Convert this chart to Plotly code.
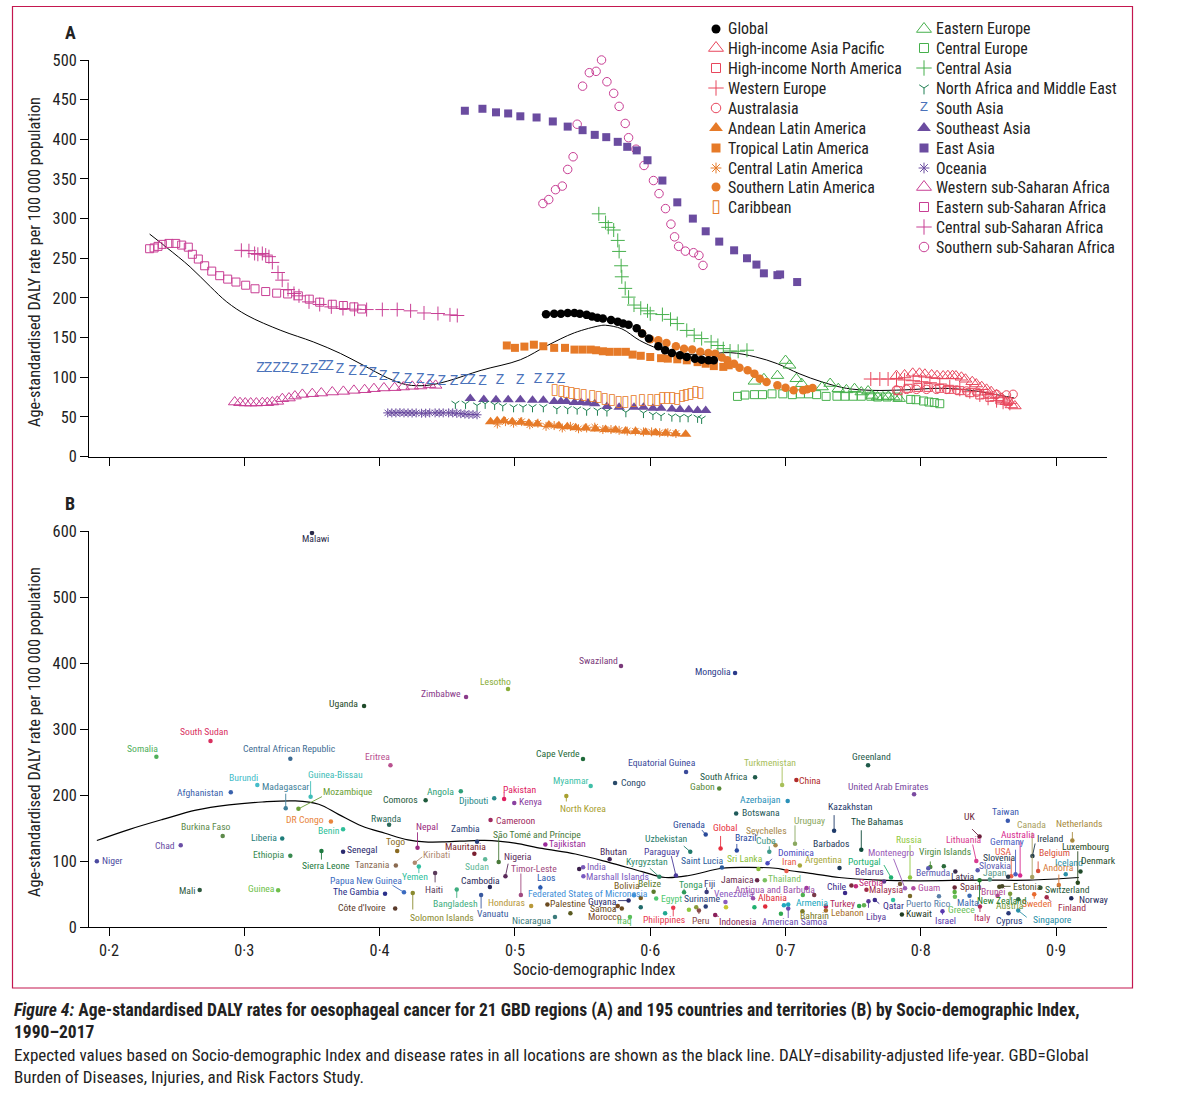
import plotly.graph_objects as go

W, H = 1179, 1095
FONT = "Roboto Condensed"

# ---- panel A : regions
expected_a_sdi = [.230, .243, .260, .275, .287, .302, .327, .351, .371, .388, .406, .420, .435, .450, .475, .504, .524, .544, .563, .567, .579, .592, .606, .622, .641, .659, .678, .694, .710, .727, .745, .764, .788, .815, .837, .869]
expected_a_rate = [280.5, 263, 239, 214, 195, 178, 159, 144.5, 130, 115, 99, 90.5, 89.7, 95, 108.7, 122, 140, 156, 165, 165.5, 161, 146.6, 136, 129.7, 129, 131, 125.5, 117, 104.5, 94, 86, 83.4, 84, 86, 83.4, 73.7]

global_sdi = [.523, .529, .534, .539, .544, .548, .553, .557, .561, .565, .571, .576, .580, .584, .590, .594, .599, .606, .611, .616, .622, .627, .633, .638, .643, .647]
global_rate = [179.4, 180, 180, 181, 181, 180, 178.6, 176.5, 175, 174, 172, 170, 167.6, 166, 161.8, 155, 148.7, 139, 134, 130.6, 127.6, 125.5, 123.4, 122, 121.3, 121.3]
hi_asia_sdi = [.782, .788, .794, .799, .803, .808, .812, .8165, .820, .8234, .826, .830, .833, .838, .841, .845, .8486, .852, .856, .860, .8633, .867, .8695]
hi_asia_rate = [101.9, 102.8, 104.9, 104.9, 103.7, 102.8, 101.9, 101.5, 101.9, 101.9, 101.5, 99.9, 97.4, 94.3, 91.4, 88, 84.7, 81.7, 77.6, 73.4, 69.1, 65, 63.7]
hi_na_sdi = [.7832, .7906, .798, .8054, .814, .8214, .8288, .8362, .8436, .851, .8584, .8645]
hi_na_rate = [83, 86, 87.2, 87.2, 86, 84.7, 83, 80.5, 77.6, 74.6, 71.3, 69.2]
w_europe_sdi = [.763, .7697, .7758, .782, .788, .7943, .8005, .8067, .814, .8214, .8288, .8362, .8436, .8497, .856, .8608, .8658]
w_europe_rate = [97.7, 97.7, 97.7, 97.7, 96.5, 95.6, 94.3, 93, 91.4, 88, 84.7, 81.7, 77.6, 73.4, 70.4, 68.4, 67]
australasia_sdi = [.782, .7894, .7968, .8042, .8116, .819, .8264, .8338, .8412, .8486, .856, .8633, .8682]
australasia_rate = [83.9, 84.7, 84.7, 84.7, 84.7, 84.7, 83.9, 82.6, 81, 79.7, 78.4, 77.6, 78.4]
andean_sdi = [.482, .4869, .4919, .498, .5042, .5103, .5165, .5251, .5325, .5387, .5449, .5522, .5596, .567, .5744, .5818, .5892, .5966, .604, .6114, .6188, .6262]
andean_rate = [43.9, 45.2, 45.2, 43.9, 43.1, 41.8, 41, 39.7, 38.9, 37.6, 36.3, 36, 34.7, 34.2, 33.4, 32.2, 31.4, 30.5, 30.1, 29.3, 28.8, 28]
tropical_sdi = [.494, .500, .507, .514, .521, .529, .537, .544, .550, .556, .560, .565, .570, .576, .582, .587, .593, .600, .608, .613, .620, .627, .635, .641, .647, .654, .658]
tropical_rate = [140, 137, 138.6, 141, 139, 137, 137, 134.8, 134.8, 134.8, 134, 132.7, 132, 132, 132, 128.5, 127, 125.5, 124, 123.4, 122.6, 121.3, 119, 117, 114, 113, 115]
central_la_sdi = [.487, .493, .499, .505, .511, .517, .523, .529, .535, .541, .547, .553, .559, .565, .571, .577, .583, .589, .595, .601, .607, .613, .619]
central_la_rate = [41, 44, 42, 44, 40, 42, 38, 39, 36, 38, 35, 36, 37, 34, 34, 33, 32, 32, 31, 31, 30, 30, 29]
southern_la_sdi = [.594, .600, .606, .612, .619, .625, .631, .637, .643, .648, .653, .657, .662, .666, .672, .677, .681, .686, .694, .700, .706, .713, .716, .720]
southern_la_rate = [155, 148, 146.6, 143, 139, 136, 134.8, 132, 130.6, 129.7, 124.7, 121.3, 117, 112, 108.7, 104.5, 98, 94, 89.7, 86.8, 83.4, 83.4, 84.7, 86.4]
caribbean_sdi = [.5296, .5345, .538, .5419, .546, .551, .5572, .562, .5665, .5719, .5769, .5818, .588, .5941, .6003, .6052, .6089, .6126, .6163, .62, .6237, .6266, .6299, .6336, .6372]
caribbean_rate = [83, 81.7, 80.5, 79.7, 78.8, 76.7, 75.4, 74.2, 72.5, 70.4, 68.3, 67.9, 69.1, 70.4, 70.4, 71.3, 73.4, 73.4, 73.4, 72.1, 75.4, 77.6, 78.8, 80.5, 79.7]
e_europe_sdi = [.677, .684, .694, .700, .703, .708, .712, .727, .733, .739, .745, .751, .756, .761, .764, .768, .772, .776, .780, .784]
e_europe_rate = [94.8, 98, 102, 121, 115, 98, 91.8, 87.6, 92, 85.5, 84, 85.5, 81.3, 82.6, 77, 75, 75, 75.8, 75, 73]
c_europe_sdi = [.6645, .670, .677, .683, .690, .698, .705, .711, .717, .723, .730, .738, .744, .750, .756, .763, .768, .775, .783, .7925, .7965, .802, .806, .810, .814]
c_europe_rate = [75.8, 77.5, 78, 78, 79, 79, 78, 79, 79, 78, 75.8, 76, 76, 76, 76, 76, 75, 75, 75, 72, 71.6, 70, 68.7, 68, 66.6]
c_asia_sdi = [.562, .567, .569, .573, .576, .577, .5785, .579, .5815, .584, .588, .593, .598, .600, .609, .615, .620, .627, .6325, .638, .645, .650, .654, .659, .665, .6715]
c_asia_rate = [306, 295, 289, 285.6, 272.5, 258.6, 240.5, 226.6, 212, 201, 191, 187, 183.7, 180, 179, 173, 167.6, 159, 153, 148.7, 144.5, 140, 136, 133, 132.7, 134]
name_sdi = [.456, .4635, .472, .478, .485, .491, .499, .506, .513, .521, .531, .539, .546, .553, .561, .568, .582, .595, .602, .608, .616, .622, .628, .635, .638]
name_rate = [66.6, 66.6, 64.4, 66.6, 65.3, 63.6, 62.3, 62.3, 62.3, 62.3, 60, 60, 59.4, 58, 58, 57, 56, 55, 52.7, 51.4, 50.5, 49.7, 49.7, 49, 47.6]
s_asia_sdi = [.312, .3175, .324, .3305, .337, .3446, .3515, .3576, .363, .3707, .380, .388, .395, .4027, .412, .421, .430, .4377, .446, .455, .4623, .468, .476, .489, .504, .517, .526, .534]
s_asia_rate = [111.6, 111.6, 111.6, 110.8, 109.5, 108.7, 109.5, 113, 113, 109.5, 107.8, 106.6, 104.5, 101.5, 98, 97.3, 96.9, 96, 95, 95, 96, 96, 94, 96, 96, 97, 97, 97]
se_asia_sdi = [.467, .477, .486, .495, .504, .513, .521, .529, .534, .538, .544, .549, .554, .559, .568, .577, .588, .595, .602, .608, .616, .622, .6285, .635, .641]
se_asia_rate = [73, 72, 71.6, 71.6, 71.6, 71, 70.8, 69.5, 69.5, 69.5, 68, 68, 67.4, 66.6, 63, 62, 62, 62, 61, 60.7, 60, 59.4, 59, 58, 58]
e_asia_sdi = [.463, .476, .486, .495, .504, .516, .528, .539, .550, .559, .5675, .576, .583, .590, .598, .609, .620, .6315, .641, .651, .662, .6715, .6785, .684, .694, .696, .7086]
e_asia_rate = [436, 438.5, 434, 432.6, 429, 427.5, 422.5, 416, 411.5, 405.6, 402.7, 396.8, 390.5, 386, 373.6, 348, 320.5, 300, 284, 271, 260, 250, 242, 231, 228.7, 229.6, 220]
oceania_sdi = [.406, .409, .412, .415, .418, .421, .424, .427, .431, .434, .437, .441, .444, .447, .451, .454, .457, .460, .463, .466, .469, .472]
oceania_rate = [55, 55, 55, 55.4, 55, 55, 54.8, 55, 54.6, 54.6, 55, 55, 55, 55, 55, 55, 54.5, 54, 53.5, 53, 53, 52.6]
w_ssa_sdi = [.2929, .2968, .3007, .3047, .3089, .3133, .317, .3207, .3244, .3281, .333, .3374, .3429, .3502, .3569, .365, .3732, .381, .3889, .3958, .4032, .4111, .4175, .4241, .4303, .4369, .4414]
w_ssa_rate = [68.7, 67.8, 67.4, 67.4, 67.4, 67.8, 67.8, 68.7, 69.5, 72.9, 73.7, 76.2, 78.3, 79.2, 80, 81.3, 82.1, 83.4, 84.2, 85.5, 86.4, 86.8, 87.6, 88.5, 88.9, 90.6, 89.7]
e_ssa_sdi = [.230, .2333, .2362, .2394, .2443, .2493, .2537, .2586, .2616, .266, .2707, .2759, .2818, .2877, .2938, .301, .3079, .3158, .3239, .332, .3399, .348, .3557, .365, .3732, .381, .3867]
e_ssa_rate = [262, 263, 265, 267.5, 268.7, 268.7, 266.6, 264, 255, 249, 240.5, 233.8, 228, 223.7, 220, 216, 211.5, 208, 206, 205, 202.6, 198.4, 194.6, 192, 190.4, 188.7, 186]
c_ssa_sdi = [.2978, .3034, .3076, .31, .3133, .3158, .3182, .3207, .3249, .328, .3323, .3367, .3404, .3478, .3557, .3643, .3729, .3815, .3904, .402, .413, .4229, .4328, .4431, .452, .4574]
c_ssa_rate = [260, 259.5, 256, 255, 256, 254, 252, 244.7, 232, 222.4, 210.6, 205.6, 202.6, 195, 191.7, 188.7, 186.6, 185.8, 185.3, 185.3, 185.3, 183.7, 181, 180.3, 178.6, 177.8]
s_ssa_sdi = [.5207, .525, .530, .535, .539, .543, .546, .550, .555, .560, .564, .568, .573, .577, .5815, .584, .5895, .5954, .6024, .6065, .6113, .6153, .618, .621, .626, .632, .636, .639]
s_ssa_rate = [319, 324, 336.5, 341, 362, 378, 419, 467, 484, 485.7, 500, 472.6, 458, 441.5, 420, 402, 387.5, 367, 348, 331.5, 312.6, 293, 277, 265, 259, 257, 253.6, 241]

RED, ORANGE, GREEN, DKGREEN, BLUE, PURPLE, PINK = "#e8465c", "#e67a28", "#46b04c", "#1f7f52", "#4a72ba", "#6b4ca0", "#c83e94"

# name, x, y, symbol (or text glyph), colour
regions = [
    ("Global", global_sdi, global_rate, "circle", "black"),
    ("High-income Asia Pacific", hi_asia_sdi, hi_asia_rate, "triangle-up-open", RED),
    ("High-income North America", hi_na_sdi, hi_na_rate, "square-open", RED),
    ("Western Europe", w_europe_sdi, w_europe_rate, "cross-thin-open", RED),
    ("Australasia", australasia_sdi, australasia_rate, "circle-open", RED),
    ("Andean Latin America", andean_sdi, andean_rate, "triangle-up", ORANGE),
    ("Tropical Latin America", tropical_sdi, tropical_rate, "square", ORANGE),
    ("Central Latin America", central_la_sdi, central_la_rate, "asterisk-open", ORANGE),
    ("Southern Latin America", southern_la_sdi, southern_la_rate, "circle", ORANGE),
    ("Caribbean", caribbean_sdi, caribbean_rate, "text:\u25af", ORANGE),
    ("Eastern Europe", e_europe_sdi, e_europe_rate, "triangle-up-open", GREEN),
    ("Central Europe", c_europe_sdi, c_europe_rate, "square-open", GREEN),
    ("Central Asia", c_asia_sdi, c_asia_rate, "cross-thin-open", GREEN),
    ("North Africa and Middle East", name_sdi, name_rate, "y-down-open", DKGREEN),
    ("South Asia", s_asia_sdi, s_asia_rate, "text:Z", BLUE),
    ("Southeast Asia", se_asia_sdi, se_asia_rate, "triangle-up", PURPLE),
    ("East Asia", e_asia_sdi, e_asia_rate, "square", PURPLE),
    ("Oceania", oceania_sdi, oceania_rate, "asterisk-open", PURPLE),
    ("Western sub-Saharan Africa", w_ssa_sdi, w_ssa_rate, "triangle-up-open", PINK),
    ("Eastern sub-Saharan Africa", e_ssa_sdi, e_ssa_rate, "square-open", PINK),
    ("Central sub-Saharan Africa", c_ssa_sdi, c_ssa_rate, "cross-thin-open", PINK),
    ("Southern sub-Saharan Africa", s_ssa_sdi, s_ssa_rate, "circle-open", PINK),
]

# marker size per symbol: chart, legend
symbol_sizes = {
    "circle": (8.5, 9), "square": (8, 9), "triangle-up": (10, 12), "triangle-up-open": (11, 13), "square-open": (8, 9),
    "circle-open": (8.5, 9.5), "cross-thin-open": (10, 11), "asterisk-open": (7.5, 9), "y-down-open": (6.5, 8),
}

# ---- panel B : countries
expected_b_sdi = [.191, .2152, .2397, .2642, .2887, .3132, .3377, .355, .3696, .3868, .404, .421, .4333, .448, .470, .483, .5, .52, .5447, .5694, .594, .611, .6286, .653, .67, .6926, .70, .72, .7396, .769, .7986, .843, .88, .9167]
expected_b_rate = [131, 148, 163, 177, 185, 189.4, 191, 186, 170.7, 153, 142, 132, 129, 129, 131, 131, 127, 119, 110.6, 98, 84, 75, 78, 89, 90.4, 89, 86.4, 81, 75, 71, 70, 71, 71, 75]

countries = [
    "Niger", "Somalia", "South Sudan", "Central African Republic", "Eritrea", "Burundi", "Madagascar", "Guinea-Bissau",
    "Mozambique", "Afghanistan", "DR Congo", "Benin", "Angola", "Comoros", "Rwanda", "Burkina Faso",
    "Liberia", "Chad", "Ethiopia", "Sierra Leone", "Senegal", "Nepal", "Togo", "Tanzania",
    "Kiribati", "Yemen", "Haiti", "Papua New Guinea", "The Gambia", "Solomon Islands", "Côte d'Ivoire", "Mali",
    "Guinea", "Bangladesh", "Cambodia", "Mauritania", "Zambia", "Djibouti", "Sudan", "Vanuatu",
    "Pakistan", "Kenya", "Cameroon", "North Korea", "Myanmar", "Congo", "Gabon", "Grenada",
    "Global", "Brazil", "Seychelles", "Uzbekistan", "São Tomé and Príncipe", "Tajikistan", "Nigeria", "Timor-Leste",
    "Laos", "Bhutan", "Kyrgyzstan", "Paraguay", "Saint Lucia", "Sri Lanka", "Dominica", "Cuba",
    "India", "Marshall Islands", "Federated States of Micronesia", "Honduras", "Palestine", "Nicaragua", "Guyana", "Samoa",
    "Morocco", "Iraq", "Bolivia", "Belize", "Egypt", "Philippines", "Tonga", "Fiji",
    "Suriname", "Peru", "Indonesia", "Jamaica", "Thailand", "Venezuela", "Antigua and Barbuda", "Albania",
    "American Samoa", "Armenia", "Bahrain", "Iran", "Argentina", "Uruguay", "China", "Turkmenistan",
    "Azerbaijan", "Botswana", "South Africa", "Equatorial Guinea", "Cape Verde", "Swaziland", "Lesotho", "Zimbabwe",
    "Uganda", "Malawi", "Mongolia", "Greenland", "United Arab Emirates", "Kazakhstan", "The Bahamas", "Barbados",
    "Portugal", "Russia", "Montenegro", "Belarus", "Serbia", "Malaysia", "Chile", "Guam",
    "Virgin Islands", "Bermuda", "Latvia", "Lithuania", "UK", "Taiwan", "Canada", "Netherlands",
    "Australia", "Germany", "USA", "Slovenia", "Slovakia", "Japan", "Ireland", "Luxembourg",
    "Belgium", "Iceland", "Denmark", "Andorra", "Estonia", "Switzerland", "Norway", "Finland",
    "Sweden", "Austria", "New Zealand", "Brunei", "Spain", "Malta", "Italy", "Greece",
    "Israel", "Cyprus", "Singapore", "Puerto Rico", "Kuwait", "Qatar", "Libya", "Lebanon",
    "Turkey",
]
country_sdi = [
    .191, .235, .275, .334, .408, .3096, .3306, .349,
    .340, .290, .364, .373, .460, .434, .407, .284,
    .328, .253, .334, .357, .373, .428, .413, .412,
    .426, .429, .441, .418, .404, .4245, .4115, .267,
    .325, .457, .4815, .470, .472, .4847, .478, .475,
    .492, .4995, .482, .538, .556, .574, .651, .641,
    .652, .664, .6926, .6296, .488, .5225, .493, .5044,
    .5188, .570, .6067, .619, .653, .680, .6867, .688,
    .5504, .5506, .588, .512, .524, .5296, .584, .579,
    .576, .585, .593, .6025, .6044, .617, .625, .6417,
    .641, .636, .648, .679, .6847, .6556, .676, .685,
    .702, .702, .7125, .7007, .7106, .707, .708, .6975,
    .7016, .6635, .6775, .6265, .5503, .5784, .4949, .4639,
    .3885, .35, .6627, .761, .795, .7359, .756, .7399,
    .778, .792, .7883, .7728, .752, .7598, .744, .7945,
    .807, .8055, .8255, .841, .8434, .8643, .8823, .912,
    .8734, .870, .8668, .8645, .842, .851, .8825, .916,
    .8867, .9071, .918, .902, .8601, .8884, .9112, .893,
    .8838, .866, .8434, .8567, .825, .836, .8437, .8252,
    .816, .8648, .872, .8134, .786, .766, .7613, .7298,
    .7298,
]
country_rate = [
    99.5, 258, 282, 255, 245, 215, 180, 197.5,
    179, 204, 160, 148, 205.5, 192, 155, 138,
    134, 124, 108, 115, 114, 120, 115, 93,
    97.5, 91.5, 82, 52.5, 50.5, 51.5, 28, 56,
    55.5, 57, 60.6, 111, 129, 195, 102.5, 48.5,
    194, 188, 162, 198.5, 213.6, 218, 210, 140,
    119, 116, 124, 114, 98.5, 125, 77, 48.5,
    60, 102.5, 76, 78, 90, 88, 96.5, 114,
    90.5, 77, 48, 32, 34, 15, 40, 28,
    32, 15, 44, 53.5, 43, 29, 52.5, 53,
    31, 25, 18, 71, 71, 38, 43.4, 31,
    28, 34, 24, 85, 93, 126, 222.7, 215,
    191, 172, 227, 235, 254.5, 395.5, 360.6, 348.5,
    335, 597, 385, 245, 201, 146, 117, 89.4,
    75, 75, 58.6, 69, 61.6, 56.6, 51.5, 58.6,
    91, 89, 84, 100, 137, 161, 75.8, 131,
    78, 80, 77, 76, 86, 72, 107.6, 67,
    85, 80, 84, 63.6, 61.6, 59.6, 43.4, 45,
    49.5, 50.5, 71, 47.5, 60, 47.5, 31, 46,
    24, 21, 25, 46.5, 19, 41, 39, 25,
    31,
]
# dots that carry no readable label
other_sdi = [.5475, .541, .593, .611, .6286, .634, .656, .677, .6966, .6988, .7155, .7128, .7212, .7487, .7544, .758, .7795, .7846, .792, .817, .825, .872, .858]
other_rate = [88, 20.7, 30, 21, 26, 30, 30, 30, 20, 33, 59, 48.5, 48.5, 63, 32, 33, 41, 65, 47, 92, 53, 42, 61]
other_colors = ["#3a1f4a", "#5a5a20", "#1f6a6a", "#20a890", "#90c840", "#8a9a3a", "#c8c830", "#20b070", "#30a850", "#20a8c0", "#a03aa0", "#50b050", "#7a3a4a", "#7a2a3a", "#30a850", "#60b050", "#30c0a0", "#7a5a3a", "#7a6a2a", "#2a6a3a", "#5ab040", "#3a6a4a", "#4a4a20"]

# colour, label centre relative to the dot (px)
label_style = {
    "Niger": ("#4b4aa0", 16, -1), "Somalia": ("#4fae5a", -14, -8), "South Sudan": ("#d9305f", -7, -9),
    "Central African Republic": ("#3f6d94", -1, -10), "Eritrea": ("#b9518f", -13, -9), "Burundi": ("#45bcc9", -14, -8),
    "Madagascar": ("#3f7f9a", 0, -22), "Guinea-Bissau": ("#3fbdb8", 25, -22), "Mozambique": ("#6a9e35", 50, -17),
    "Afghanistan": ("#3a62ac", -31, 0), "DR Congo": ("#e8843c", -26, -2), "Benin": ("#2fbf9a", -14, 1),
    "Angola": ("#2f9f78", -20, 0), "Comoros": ("#1f5a3c", -25, -1), "Rwanda": ("#2c6a5a", -3, -6),
    "Burkina Faso": ("#5d8a4a", -17, -9), "Liberia": ("#1f7d7a", -18, -1), "Chad": ("#6a4ea5", -16, 0),
    "Ethiopia": ("#3a8a50", -22, -1), "Sierra Leone": ("#1f7a40", 5, 14), "Senegal": ("#2b2a6e", 19, -2),
    "Nepal": ("#9a2a80", 9, -21), "Togo": ("#8a6a20", -2, -10), "Tanzania": ("#8a6a50", -23, -1),
    "Kiribati": ("#b08a70", 22, -8), "Yemen": ("#2fbfa0", -4, 10), "Haiti": ("#5a3a5a", -1, 17),
    "Papua New Guinea": ("#3a6ac0", -38, -12), "The Gambia": ("#2a2f8a", -29, -2), "Solomon Islands": ("#8a8a2f", 29, 24),
    "Côte d'Ivoire": ("#5a3a2a", -33, -1), "Mali": ("#2f5a3f", -13, 0), "Guinea": ("#6fbf4a", -17, -2),
    "Bangladesh": ("#3fae80", -1, 14), "Cambodia": ("#2a2a5a", -9, -7), "Mauritania": ("#7a1f30", -9, -7),
    "Zambia": ("#2a3f7a", -12, -13), "Djibouti": ("#2a8a8a", -21, 2), "Sudan": ("#5fb898", -8, 7),
    "Vanuatu": ("#3a5aa0", 12, 19), "Pakistan": ("#e02060", 15, -9), "Kenya": ("#8a40a0", 16, -1),
    "Cameroon": ("#a02a60", 25, 0), "North Korea": ("#a8a030", 17, 13), "Myanmar": ("#40bfa8", -20, -6),
    "Congo": ("#2a4a6a", 18, -1), "Gabon": ("#5a8a3a", -17, -2), "Grenada": ("#2a4a9a", -17, -10),
    "Global": ("#e83040", 4, -21), "Brazil": ("#2a4aa0", 9, -13), "Seychelles": ("#a8884a", -9, -15),
    "Uzbekistan": ("#1f7a6a", -24, -13), "São Tomé and Príncipe": ("#4a7a3a", 38, -27), "Tajikistan": ("#9a2a9a", 22, -1),
    "Nigeria": ("#5a2a5a", 13, -20), "Timor-Leste": ("#a04a80", 13, -26), "Laos": ("#2a5ab0", 6, -10),
    "Bhutan": ("#4a2a5a", 4, -8), "Kyrgyzstan": ("#2f8a6a", -12, -15), "Paraguay": ("#4a3a9a", -14, -24),
    "Saint Lucia": ("#2a5a9a", -20, -7), "Sri Lanka": ("#8abf3a", -13, -10), "Dominica": ("#4a4ac0", 28, -11),
    "Cuba": ("#3f9a8a", -3, -11), "India": ("#7a5ab8", 13, -1), "Marshall Islands": ("#7a5ac0", 34, 0),
    "Federated States of Micronesia": ("#3f90d8", -46, -2), "Honduras": ("#b8983a", -25, -3), "Palestine": ("#6a4a20", 21, -1),
    "Nicaragua": ("#3a7a7a", -23, 3), "Guyana": ("#2a2a6a", -26, 1), "Samoa": ("#6a4a20", -18, 0),
    "Morocco": ("#7a4a1f", -13, 11), "Iraq": ("#5abf5a", -5, 3), "Bolivia": ("#7a5a20", -14, -12),
    "Belize": ("#5a7a2a", -4, -8), "Egypt": ("#4fc870", 15, 0), "Philippines": ("#e83a50", -9, 12),
    "Tonga": ("#2f9a5a", 7, -8), "Fiji": ("#3a3a7a", 3, -9), "Suriname": ("#2a3f7a", -3, -8),
    "Peru": ("#8a4a4a", 2, 10), "Indonesia": ("#8a1f5a", 23, 6), "Jamaica": ("#6a2a4a", -20, -1),
    "Thailand": ("#7ac060", 20, -2), "Venezuela": ("#8a5ac0", 9, -8), "Antigua and Barbuda": ("#9a50a8", 22, -9),
    "Albania": ("#e02a3a", 7, -9), "American Samoa": ("#6a4ab0", 6, 13), "Armenia": ("#20a8c0", 24, -2),
    "Bahrain": ("#7a7a2a", 12, 4), "Iran": ("#e85a4a", 3, -9), "Argentina": ("#a8a83a", 24, -6),
    "Uruguay": ("#8aa860", 14, -23), "China": ("#b02a2a", 14, 0), "Turkmenistan": ("#a8c05a", -12, -23),
    "Azerbaijan": ("#2a90b8", -27, -1), "Botswana": ("#1f5a5a", 25, -1), "South Africa": ("#1f5a4a", -31, -1),
    "Equatorial Guinea": ("#3a4a9a", -24, -9), "Cape Verde": ("#1f6a3a", -25, -6), "Swaziland": ("#7a3a7a", -23, -5),
    "Lesotho": ("#8aae3a", -13, -8), "Zimbabwe": ("#8a3a8a", -25, -3), "Uganda": ("#1f4a2a", -21, -2),
    "Malawi": ("#2a2a4a", 4, 6), "Mongolia": ("#2a3a8a", -22, -1), "Greenland": ("#1f5a4a", 3, -9),
    "United Arab Emirates": ("#7a4aa0", -26, -8), "Kazakhstan": ("#1f3a6a", 16, -24), "The Bahamas": ("#0f4a3a", 16, -28),
    "Barbados": ("#1f3a5a", -9, -25), "Portugal": ("#20b070", -27, -16), "Russia": ("#90c840", -1, -38),
    "Montenegro": ("#9a5ab8", -14, -36), "Belarus": ("#5a3a8a", -15, -10), "Serbia": ("#c02a7a", 16, -4),
    "Malaysia": ("#a02a4a", 20, 0), "Chile": ("#3a2a8a", -8, -7), "Guam": ("#b04aa0", 16, -1),
    "Virgin Islands": ("#4a8a3a", 15, -15), "Bermuda": ("#5a5ab0", 5, 4), "Latvia": ("#3a2a4a", 7, 5),
    "Lithuania": ("#d83a90", -12, -22), "UK": ("#6a1f3a", -10, -20), "Taiwan": ("#3a5ab0", -2, -9),
    "Canada": ("#a8a060", -1, -52), "Netherlands": ("#a88a40", 7, -17), "Australia": ("#d82a90", -2, -41),
    "Germany": ("#4a60c0", -9, -33), "USA": ("#e8604a", -8, -25), "Slovenia": ("#2a3a4a", -9, -19),
    "Slovakia": ("#5a5ab0", 17, -5), "Japan": ("#5a9a8a", 5, -7), "Ireland": ("#1f3a4a", 18, -17),
    "Luxembourg": ("#2a4a1f", 8, -36), "Belgium": ("#d8503a", 16, -18), "Iceland": ("#2a90a8", 3, -12),
    "Denmark": ("#1f4a2a", 18, -11), "Andorra": ("#d87a3a", 0, -18), "Estonia": ("#4a4a2a", 25, 0),
    "Switzerland": ("#2a5a3a", 27, 2), "Norway": ("#1f2a5a", 22, 1), "Finland": ("#a02a4a", 25, 10),
    "Sweden": ("#e86a30", 3, 9), "Austria": ("#7a9a3a", 0, 12), "New Zealand": ("#1f7a2a", 22, 20),
    "Brunei": ("#b04a90", -5, -4), "Spain": ("#6a2a3a", 16, -1), "Malta": ("#3a6ab0", -2, 7),
    "Italy": ("#b02a5a", 2, 11), "Greece": ("#6ac05a", 7, 13), "Israel": ("#5a3ab0", 3, 9),
    "Cyprus": ("#2a3a7a", 0, 7), "Singapore": ("#2a90a8", 34, 9), "Puerto Rico": ("#5a80a8", -11, 7),
    "Kuwait": ("#1f3a1f", 17, -1), "Qatar": ("#3a2a8a", 19, 6), "Libya": ("#5a3a9a", 8, 15),
    "Lebanon": ("#a8702a", 22, 2), "Turkey": ("#b02a5a", 17, -3),
}
# leader line end relative to the dot (px)
leaders = {
    "Madagascar": (0, -16), "Guinea-Bissau": (0, -17), "Mozambique": (25, -13), "Sierra Leone": (0, 10), "Nepal": (0, -17),
    "Kiribati": (9, -7), "Yemen": (0, 8), "Haiti": (0, 11), "Papua New Guinea": (-13, -8), "Solomon Islands": (0, 18),
    "Bangladesh": (0, 10), "Vanuatu": (0, 15), "Pakistan": (0, -8), "North Korea": (0, 7), "Grenada": (-5, -6),
    "Global": (0, -14), "Brazil": (0, -8), "Seychelles": (-8, -8), "Uzbekistan": (-8, -7), "São Tomé and Príncipe": (0, -26),
    "Nigeria": (3, -14), "Timor-Leste": (0, -23), "Laos": (0, -4), "Kyrgyzstan": (-11, -10), "Paraguay": (-5, -21),
    "Dominica": (6, -6), "Cuba": (0, -7), "Guyana": (-12, 0), "Morocco": (-6, 5), "Philippines": (0, 10),
    "Tonga": (0, -5), "Fiji": (0, -6), "Peru": (0, 5), "Indonesia": (5, 2), "American Samoa": (0, 11),
    "Uruguay": (0, -20), "Turkmenistan": (0, -20), "Kazakhstan": (0, -17), "The Bahamas": (0, -21), "Portugal": (-8, -14),
    "Russia": (0, -34), "Montenegro": (-12, -31), "Virgin Islands": (0, -7), "Lithuania": (-4, -18), "UK": (-9, -9),
    "Canada": (0, -46), "Netherlands": (0, -10), "Australia": (0, -36), "Germany": (0, -26), "USA": (0, -20),
    "Ireland": (3, -14), "Luxembourg": (0, -33), "Belgium": (0, -11), "Andorra": (0, -12), "Estonia": (10, 0),
    "Finland": (6, 6), "Sweden": (0, 6), "Austria": (0, 8), "New Zealand": (0, 22), "Italy": (0, 7),
    "Israel": (0, 5), "Singapore": (10, 8), "Qatar": (6, 5), "Libya": (0, 8),
}

legend_rows = [29, 48, 68, 88, 108, 128, 148, 168, 187, 207, 29, 48, 68, 88, 108, 128, 148, 168, 187, 207, 227, 247]

assert len(countries) == len(country_sdi) == len(country_rate)


def px(x):
    return x / W


def py(y):
    return 1 - y / H


def region_trace(x, y, sym, col, xa, ya, legend=False):
    if sym.startswith("text:"):
        glyph = sym[5:]
        if glyph == "Z":
            tf = dict(family="Liberation Sans", size=13 if legend else 14, color=col)
        else:
            tf = dict(family="DejaVu Sans", size=18 if legend else 15, color=col)
        return go.Scatter(x=x, y=y, mode="text", text=[glyph] * len(x), xaxis=xa, yaxis=ya, showlegend=False, hoverinfo="skip",
                          cliponaxis=False, textfont=tf)
    size = symbol_sizes[sym][1 if legend else 0]
    if sym in ("circle", "square", "triangle-up"):
        mk = dict(symbol=sym, size=size, color=col, line=dict(width=0))
    else:
        mk = dict(symbol=sym, size=size, color=col, line=dict(width=1, color=col))
    return go.Scatter(x=x, y=y, mode="markers", marker=mk, xaxis=xa, yaxis=ya, showlegend=False, hoverinfo="skip", cliponaxis=False)


fig = go.Figure()

fig.add_trace(go.Scatter(x=expected_a_sdi, y=expected_a_rate, mode="lines", line=dict(color="black", width=1, shape="spline"),
                         showlegend=False, hoverinfo="skip"))
for name, x, y, sym, col in reversed(regions):
    fig.add_trace(region_trace(x, y, sym, col, "x", "y"))

fig.add_trace(go.Scatter(x=expected_b_sdi, y=expected_b_rate, mode="lines", line=dict(color="black", width=1.2, shape="spline"),
                         xaxis="x2", yaxis="y2", showlegend=False, hoverinfo="skip"))
fig.add_trace(go.Scatter(x=other_sdi, y=other_rate, mode="markers", marker=dict(size=4.5, color=other_colors),
                         xaxis="x2", yaxis="y2", showlegend=False, hoverinfo="skip"))
fig.add_trace(go.Scatter(x=country_sdi, y=country_rate, mode="markers", text=countries,
                         marker=dict(size=4.5, color=[label_style[c][0] for c in countries]),
                         xaxis="x2", yaxis="y2", showlegend=False, hoverinfo="text"))

notes = []
for c, sx, ry in zip(countries, country_sdi, country_rate):
    col, dx, dy = label_style[c]
    notes.append(dict(x=sx, y=ry, xref="x2", yref="y2", text=c, showarrow=False, xshift=dx, yshift=-dy,
                      xanchor="center", yanchor="middle", font=dict(family=FONT, size=9.7, color=col)))
    if c in leaders:
        lx, ly = leaders[c]
        notes.append(dict(x=sx, y=ry, xref="x2", yref="y2", text="", showarrow=True, ax=lx, ay=ly, arrowhead=0,
                          arrowwidth=0.9, arrowcolor=col, standoff=0))

# legend, two columns, drawn on a full page axis
for i, (name, x, y, sym, col) in enumerate(regions):
    mx, tx = (716, 726) if i < 10 else (924, 934)
    ly = legend_rows[i]
    fig.add_trace(region_trace([mx], [ly], sym, col, "x3", "y3", legend=True))
    notes.append(dict(x=px(tx), y=py(ly), xref="paper", yref="paper", text=name, showarrow=False, xanchor="left",
                      yanchor="middle", font=dict(family=FONT, size=15.9, color="#222222")))

ttl = dict(xref="paper", yref="paper", showarrow=False, xanchor="center", yanchor="middle")
axis_font = dict(family=FONT, size=16.3, color="#222222")
notes += [
    dict(ttl, x=px(70), y=py(33), text="<b>A</b>", font=dict(family=FONT, size=18, color="#222222")),
    dict(ttl, x=px(70), y=py(503), text="<b>B</b>", font=dict(family=FONT, size=18, color="#222222")),
    dict(ttl, x=px(34), y=py(262), text="Age-standardised DALY rate per 100 000 population", textangle=-90, font=axis_font),
    dict(ttl, x=px(34), y=py(732), text="Age-standardised DALY rate per 100 000 population", textangle=-90, font=axis_font),
    dict(ttl, x=px(594), y=py(969), text="Socio-demographic Index", font=axis_font),
]
caption = [
    (1010, 17.5, "<b><i>Figure 4:</i> Age-standardised DALY rates for oesophageal cancer for 21 GBD regions (A) and 195 countries and territories (B) by Socio-demographic Index,</b>"),
    (1032, 17.5, "<b>1990–2017</b>"),
    (1055, 17, "Expected values based on Socio-demographic Index and disease rates in all locations are shown as the black line. DALY=disability-adjusted life-year. GBD=Global"),
    (1077, 17, "Burden of Diseases, Injuries, and Risk Factors Study."),
]
for yy, sz, txt in caption:
    notes.append(dict(ttl, x=px(12), y=py(yy), text=txt, xanchor="left", font=dict(family=FONT, size=sz, color="#222222")))

sdi_ticks = [.2, .3, .4, .5, .6, .7, .8, .9]
sdi_labels = ["0·2", "0·3", "0·4", "0·5", "0·6", "0·7", "0·8", "0·9"]
xr = [0.1852, 0.9376]
xcommon = dict(range=xr, domain=[px(89), px(1107)], tickvals=sdi_ticks, showgrid=False, zeroline=False, ticks="outside", automargin=False,
               ticklen=8, tickcolor="black", showline=True, linecolor="black", linewidth=1, tickfont=axis_font)
ycommon = dict(showgrid=False, zeroline=False, ticks="outside", ticklen=8, tickcolor="black", showline=True, linecolor="black",
               linewidth=1, tickfont=axis_font, automargin=False)

fig.update_layout(
    width=W, height=H, margin=dict(l=0, r=0, t=0, b=0), paper_bgcolor="white", plot_bgcolor="rgba(0,0,0,0)",
    showlegend=False,
    xaxis=dict(xcommon, anchor="y", ticktext=[""] * 8),
    yaxis=dict(ycommon, anchor="x", range=[0, 500], domain=[py(456.5), py(60)], tickvals=list(range(0, 501, 50))),
    xaxis2=dict(xcommon, anchor="y2", ticktext=sdi_labels),
    yaxis2=dict(ycommon, anchor="x2", range=[0, 600], domain=[py(927), py(531)], tickvals=list(range(0, 601, 100))),
    xaxis3=dict(range=[0, W], domain=[0, 1], visible=False, anchor="y3", automargin=False),
    yaxis3=dict(range=[H, 0], domain=[0, 1], visible=False, anchor="x3", automargin=False),
    annotations=notes,
    shapes=[dict(type="rect", xref="paper", yref="paper", x0=px(12.5), x1=px(1132.5), y0=py(988), y1=py(6.5),
                 line=dict(color="#c4174f", width=1.2))],
)

fig.write_html("out.html", config={"displayModeBar": False}, post_script="document.body.style.margin='0';")
